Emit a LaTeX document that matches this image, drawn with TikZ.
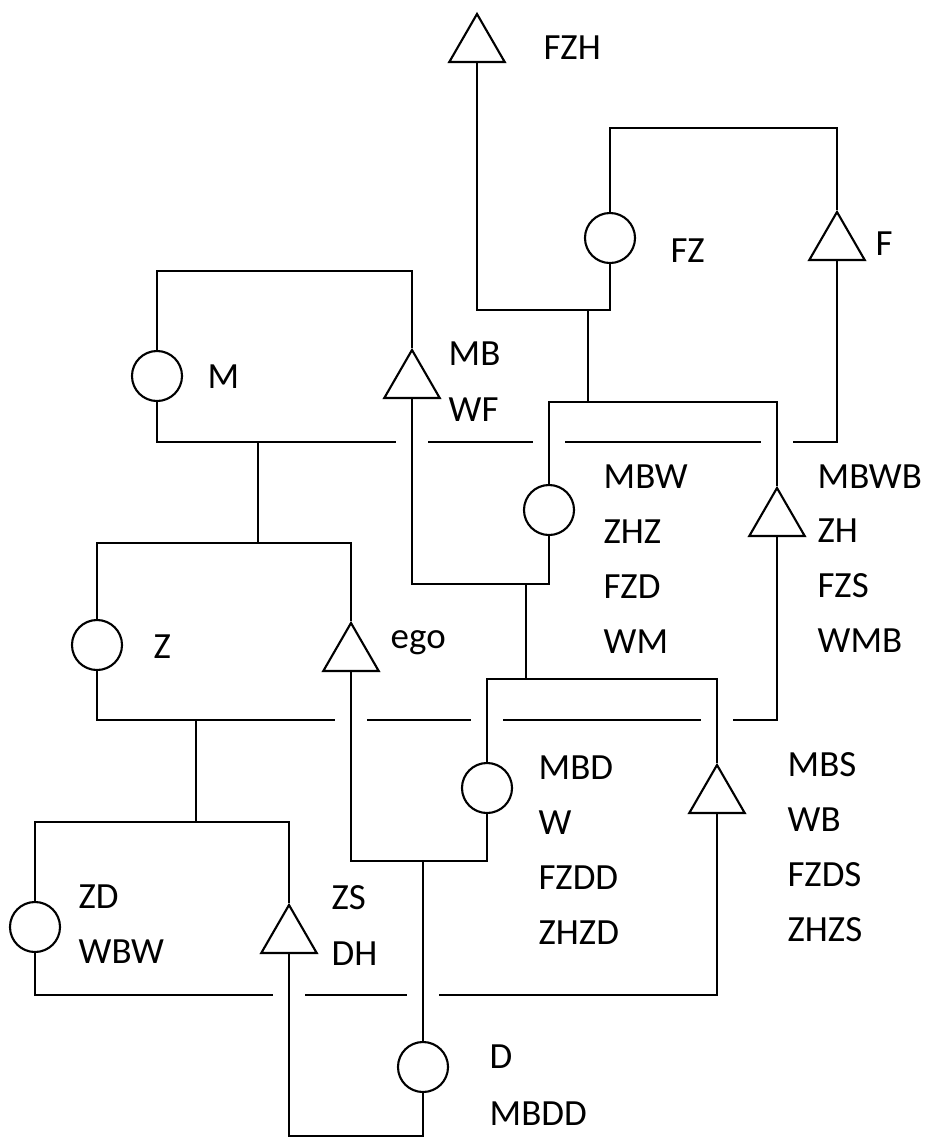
\documentclass[tikz,border=0pt]{standalone}
\usepackage{fontspec}
\setmainfont{Carlito}
\usetikzlibrary{shapes.geometric}

\begin{document}
\begin{tikzpicture}[
    x=0.01cm, y=-0.01cm,
    female/.style={circle, draw, minimum size=0.5cm, inner sep=0pt, line width=0.6pt},
    male/.style={regular polygon, regular polygon sides=3, draw, minimum size=0.64cm, inner sep=0pt, line width=0.6pt},
    kin/.style={anchor=base west, inner sep=0pt, font=\fontsize{10.5}{12}\selectfont},
    tie/.style={line width=0.6pt}
]
\useasboundingbox (0,0) rectangle (925,1139);

% Persons
\node[male] (fzh) at (477,46) {};
\node[female] (fz) at (610,238) {};
\node[male] (f) at (837,244) {};
\node[female] (m) at (157,376) {};
\node[male] (mb) at (412,382) {};
\node[female] (mbw) at (549,510) {};
\node[male] (zh) at (777,520) {};
\node[female] (z) at (97,645) {};
\node[male] (ego) at (351,655) {};
\node[female] (mbd) at (487,788) {};
\node[male] (mbs) at (717,797) {};
\node[female] (zd) at (35,927) {};
\node[male] (zs) at (289,937) {};
\node[female] (d) at (423,1067) {};

% Junctions
\coordinate (fzsib) at (700,128);
\coordinate (msib) at (300,271);
\coordinate (fzm) at (588,310);
\coordinate (mbwsib) at (588,402);
\coordinate (mf) at (258,442);
\coordinate (zsib) at (258,543);
\coordinate (mbm) at (526,584);
\coordinate (mbdsib) at (526,679);
\coordinate (zm) at (196,720);
\coordinate (zdsib) at (196,822);
\coordinate (egom) at (423,861);
\coordinate (zdm) at (500,995);
\coordinate (zsm) at (350,1136);

% Marriages crossed by other lines
\draw[tie] (m.south) |- (mf) -| (f.side 2);
\draw[tie] (z.south) |- (zm) -| (zh.side 2);
\draw[tie] (zd.south) |- (zdm) -| (mbs.side 2);
\foreach \x/\y in {412/442, 549/442, 777/442, 351/720, 487/720, 717/720, 289/995, 423/995}
    \fill[white] (\x-16,\y-4) rectangle (\x+16,\y+4);

% Siblings
\draw[tie] (fz.north) |- (fzsib) -| (f.corner 1);
\draw[tie] (m.north) |- (msib) -| (mb.corner 1);
\draw[tie] (mbw.north) |- (mbwsib) -| (zh.corner 1);
\draw[tie] (z.north) |- (zsib) -| (ego.corner 1);
\draw[tie] (mbd.north) |- (mbdsib) -| (mbs.corner 1);
\draw[tie] (zd.north) |- (zdsib) -| (zs.corner 1);

% Other marriages and descent
\draw[tie] (fzh.side 2) |- (fzm) -| (fz.south);
\draw[tie] (mb.side 2) |- (mbm) -| (mbw.south);
\draw[tie] (ego.side 2) |- (egom) -| (mbd.south);
\draw[tie] (zs.side 2) |- (zsm) -| (d.south);
\draw[tie] (fzm) -- (mbwsib);
\draw[tie] (mf) -- (zsib);
\draw[tie] (mbm) -- (mbdsib);
\draw[tie] (zm) -- (zdsib);
\draw[tie] (egom) -- (d.north);

% Kin terms
\node[kin] (t-fzh) at (543,59) {FZH};
\node[kin] (t-fz) at (670,262) {FZ};
\node[kin] (t-f) at (875,255) {F};
\node[kin] (t-m) at (207,388) {M};
\node[kin] (t-mb) at (448,365) {MB};
\node[kin] (t-wf) at (448,421) {WF};
\foreach \t [count=\i from 0] in {MBW,ZHZ,FZD,WM}
    \node[kin] (t-mbw\i) at (603,488+55*\i) {\t};
\foreach \t [count=\i from 0] in {MBWB,ZH,FZS,WMB}
    \node[kin] (t-zh\i) at (817,488+54.7*\i) {\t};
\node[kin] (t-z) at (153,658) {Z};
\node[kin] (t-ego) at (390,648) {ego};
\foreach \t [count=\i from 0] in {MBD,W,FZDD,ZHZD}
    \node[kin] (t-mbd\i) at (538,779+55.3*\i) {\t};
\foreach \t [count=\i from 0] in {MBS,WB,FZDS,ZHZS}
    \node[kin] (t-mbs\i) at (787,776+55.3*\i) {\t};
\node[kin] (t-zd) at (78,908) {ZD};
\node[kin] (t-wbw) at (78,963) {WBW};
\node[kin] (t-zs) at (331,909) {ZS};
\node[kin] (t-dh) at (331,965) {DH};
\node[kin] (t-d) at (489,1068) {D};
\node[kin] (t-mbdd) at (489,1125) {MBDD};

\end{tikzpicture}
\end{document}
